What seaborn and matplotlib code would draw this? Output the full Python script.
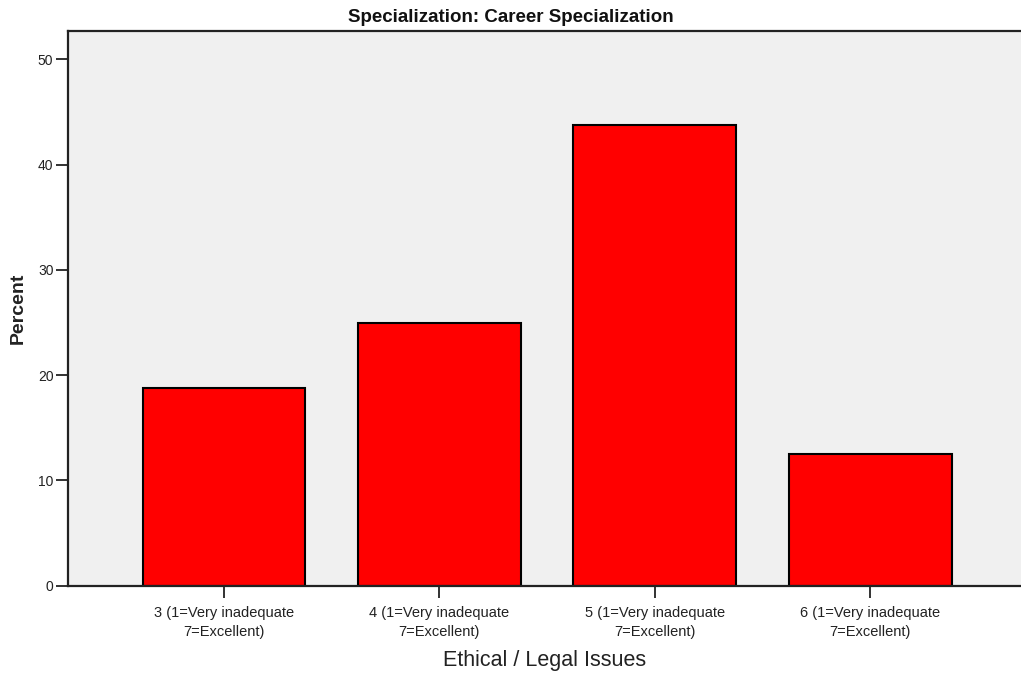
import matplotlib
matplotlib.use("Agg")
import matplotlib.pyplot as plt
import seaborn as sns
import pandas as pd

categories = ["3 (1=Very inadequate\n7=Excellent)",
              "4 (1=Very inadequate\n7=Excellent)",
              "5 (1=Very inadequate\n7=Excellent)",
              "6 (1=Very inadequate\n7=Excellent)"]
percent = [18.75, 25.0, 43.75, 12.5]
yticks = [0, 10, 20, 30, 40, 50]

title = "Specialization: Career Specialization"
xlabel = "Ethical / Legal Issues"
ylabel = "Percent"

sns.set_theme(style="ticks")
plt.rcParams['font.family'] = ['Liberation Sans', 'DejaVu Sans']

df = pd.DataFrame({"cat": categories, "pct": percent})

fig = plt.figure(figsize=(10.21, 6.79), dpi=100)
ax = fig.add_axes([0.0666, 0.1374, 0.9334, 0.8169])
ax.set_facecolor("#F0F0F0")

sns.barplot(data=df, x="cat", y="pct", color="#FF0000", saturation=1,
            width=0.756, edgecolor="black", linewidth=1.5, ax=ax)

ax.set_xlim(-0.724, 3.70)
ax.set_ylim(0, 52.7)
ax.set_yticks(yticks)

for s in ["left", "bottom", "top"]:
    ax.spines[s].set_visible(True)
    ax.spines[s].set_linewidth(1.6)
    ax.spines[s].set_color("#222222")
ax.spines["right"].set_visible(False)

ax.tick_params(axis="both", direction="out", length=8.5, width=1.3, color="#222222")
ax.tick_params(axis="x", pad=6)
ax.tick_params(axis="y", pad=2)
for lab in ax.get_xticklabels():
    lab.set_fontsize(10.5)
    lab.set_color("#222222")
    lab.set_linespacing(1.45)
for lab in ax.get_yticklabels():
    lab.set_fontsize(10)
    lab.set_color("#222222")

ax.set_xlabel(xlabel, fontsize=15.5, color="#222222", labelpad=8)
ax.set_ylabel(ylabel, fontsize=14, fontweight="bold", color="#222222", labelpad=8)
fig.text(0.5, 0.987, title, ha="center", va="top", fontsize=13.5, fontweight="bold",
         color="#111111")

fig.savefig("out.png", dpi=100, facecolor="white")
